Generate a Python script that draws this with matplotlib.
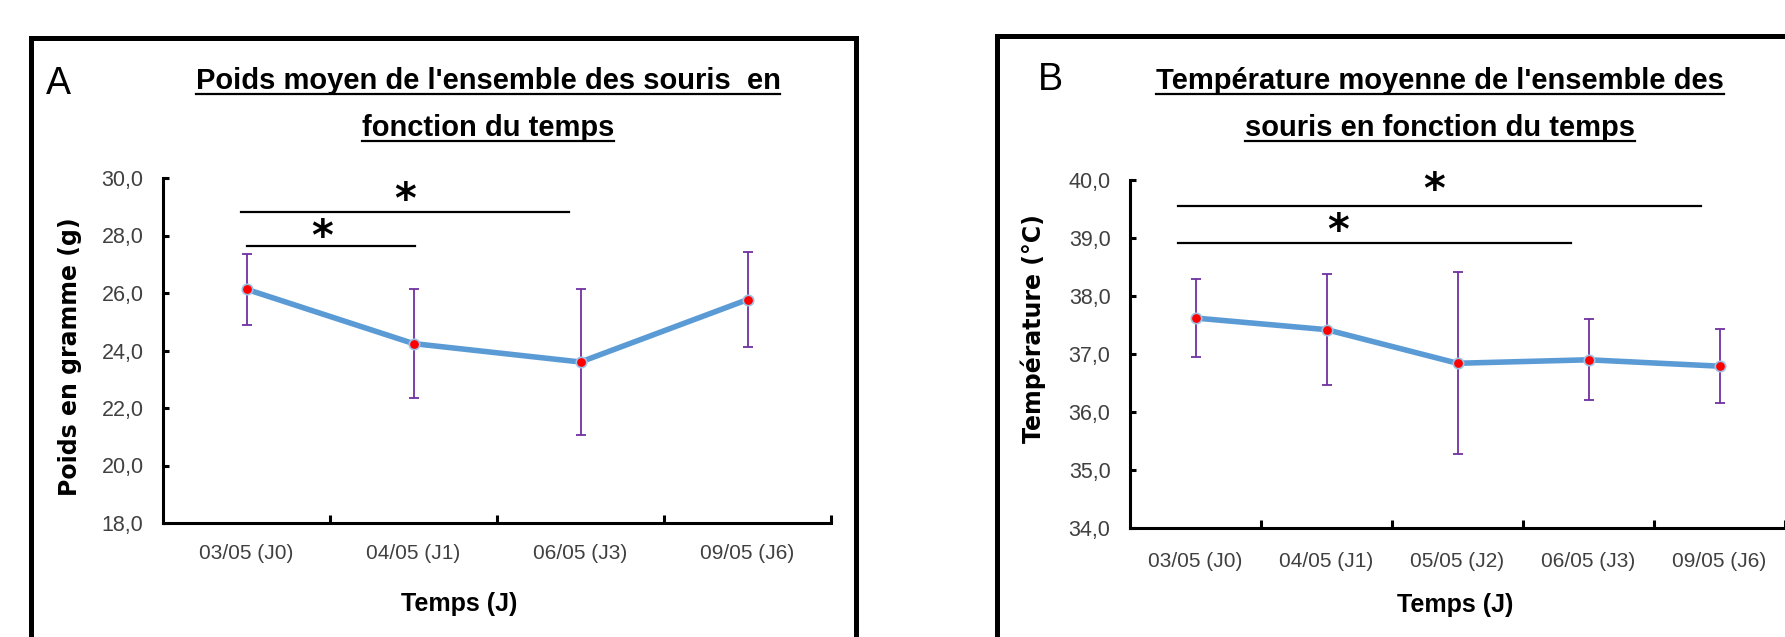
import matplotlib
matplotlib.use("Agg")
import matplotlib.pyplot as plt
from matplotlib.lines import Line2D
from matplotlib.patches import Rectangle
from matplotlib import font_manager

# ---------------- data ----------------
cats_A = ['03/05 (J0)', '04/05 (J1)', '06/05 (J3)', '09/05 (J6)']
poids = [26.13, 24.24, 23.60, 25.77]
poids_err = [1.23, 1.90, 2.55, 1.64]
yticks_A = [18.0, 20.0, 22.0, 24.0, 26.0, 28.0, 30.0]

cats_B = ['03/05 (J0)', '04/05 (J1)', '05/05 (J2)', '06/05 (J3)', '09/05 (J6)']
temp = [37.62, 37.42, 36.84, 36.90, 36.79]
temp_err = [0.68, 0.96, 1.57, 0.70, 0.64]
yticks_B = [34.0, 35.0, 36.0, 37.0, 38.0, 39.0, 40.0]

# significance bars: (x_start, x_end, y, star_x, star_y)
sig_A = [(-0.03, 1.93, 28.83, 0.95, 29.2), (0.0, 1.01, 27.62, 0.45, 27.9)]
sig_B = [(-0.13, 3.86, 39.56, 1.82, 39.81), (-0.13, 2.87, 38.91, 1.09, 39.10)]

title_A = ["Poids moyen de l'ensemble des souris  en", "fonction du temps"]
title_B = ["Température moyenne de l'ensemble des", "souris en fonction du temps"]

# ---------------- fonts ----------------
avail = {f.name for f in font_manager.fontManager.ttflist}
NARROW = 'Liberation Sans Narrow' if 'Liberation Sans Narrow' in avail else 'Liberation Sans'
BOLDF = 'DejaVu Sans'

W, H = 1785, 637
fig = plt.figure(figsize=(W / 100, H / 100), dpi=100)

def fx(x):
    return x / W

def fy(y):
    return 1 - y / H

# outer frames
fig.patches.append(Rectangle((fx(30.5), fy(700)), fx(855.5) - fx(30.5), fy(37.5) - fy(700),
                             transform=fig.transFigure, fill=False, lw=3.6, ec='black', clip_on=False))
fig.patches.append(Rectangle((fx(996.5), fy(700)), fx(2000) - fx(996.5), fy(36.5) - fy(700),
                             transform=fig.transFigure, fill=False, lw=3.6, ec='black', clip_on=False))

LINE_C = '#5B9BD5'
ERR_C = '#7030A0'
TICK_C = '#404040'


def make_panel(rect, cats, vals, errs, yticks, sig, xpad):
    ax = fig.add_axes([fx(rect[0]), fy(rect[3]), fx(rect[1]) - fx(rect[0]), fy(rect[2]) - fy(rect[3])])
    n = len(cats)
    xs = list(range(n))
    ax.errorbar(xs, vals, yerr=errs, fmt='none', ecolor=ERR_C, elinewidth=1.3,
                capsize=3.5, capthick=1.3, zorder=2)
    ax.plot(xs, vals, color=LINE_C, lw=4, solid_capstyle='round', zorder=3)
    ax.plot(xs, vals, 'o', ms=7.5, mfc='#FF0000', mec='#9DC3E6', mew=1.2, zorder=4)
    for (x0, x1, y, sx, sy) in sig:
        ax.plot([x0, x1], [y, y], color='black', lw=1.6, zorder=3, clip_on=False)
        ax.text(sx, sy, '*', ha='center', va='center', fontsize=30, fontweight='bold',
                family='DejaVu Sans', color='black', clip_on=False)
    ax.set_xlim(-0.5, n - 0.5)
    ax.set_ylim(yticks[0], yticks[-1])
    ax.set_yticks(yticks)
    ax.set_yticklabels([f"{v:.1f}".replace('.', ',') for v in yticks],
                       fontsize=15.5, family=NARROW, color=TICK_C)
    ax.set_xticks(xs)
    ax.set_xticklabels(cats, fontsize=15, family=NARROW, color=TICK_C)
    ax.set_xticks([i + 0.5 for i in range(n)], minor=True)
    ax.tick_params(axis='x', which='major', length=0, pad=xpad)
    ax.tick_params(axis='x', which='minor', direction='in', length=5.5, width=2.2, color='black')
    ax.tick_params(axis='y', which='major', direction='in', length=4, width=2.2, color='black', pad=14)
    for s in ['top', 'right']:
        ax.spines[s].set_visible(False)
    for s in ['left', 'bottom']:
        ax.spines[s].set_linewidth(2.2)
        ax.spines[s].set_color('black')
    ax.patch.set_alpha(0)
    return ax


axA = make_panel((163, 831, 178, 523), cats_A, poids, poids_err, yticks_A, sig_A, 15)
axB = make_panel((1130, 1785, 180, 528), cats_B, temp, temp_err, yticks_B, sig_B, 17)

# axis labels
fig.text(fx(70), fy(357), 'Poids en gramme (g)', rotation=90, ha='center', va='center',
         fontsize=17, fontweight='bold', family=BOLDF, color='black')
fig.text(fx(1033), fy(329), 'Température (°C)', rotation=90, ha='center', va='center',
         fontsize=17, fontweight='bold', family=BOLDF, color='black')
fig.text(fx(459), fy(604), 'Temps (J)', ha='center', va='center',
         fontsize=18, fontweight='bold', family=NARROW, color='black')
fig.text(fx(1455), fy(605), 'Temps (J)', ha='center', va='center',
         fontsize=18, fontweight='bold', family=NARROW, color='black')

# panel letters
fig.text(fx(58), fy(84), 'A', ha='center', va='center', fontsize=27, family=NARROW, color='black')
fig.text(fx(1050), fy(80), 'B', ha='center', va='center', fontsize=27, family=NARROW, color='black')

# titles (underlined)
title_texts = []
for lines, cx in ((title_A, 488), (title_B, 1440)):
    for i, line in enumerate(lines):
        yb = 89 + 47 * i
        t = fig.text(fx(cx), fy(yb), line, ha='center', va='baseline', fontsize=21,
                     fontweight='bold', family=NARROW, color='black')
        title_texts.append((t, yb))

fig.canvas.draw()
r = fig.canvas.get_renderer()
for t, yb in title_texts:
    bb = t.get_window_extent(renderer=r)
    yl = yb + 5
    fig.add_artist(Line2D([bb.x0 / W, bb.x1 / W], [fy(yl), fy(yl)], transform=fig.transFigure,
                          color='black', lw=1.6))

fig.savefig('out.png', dpi=100)
